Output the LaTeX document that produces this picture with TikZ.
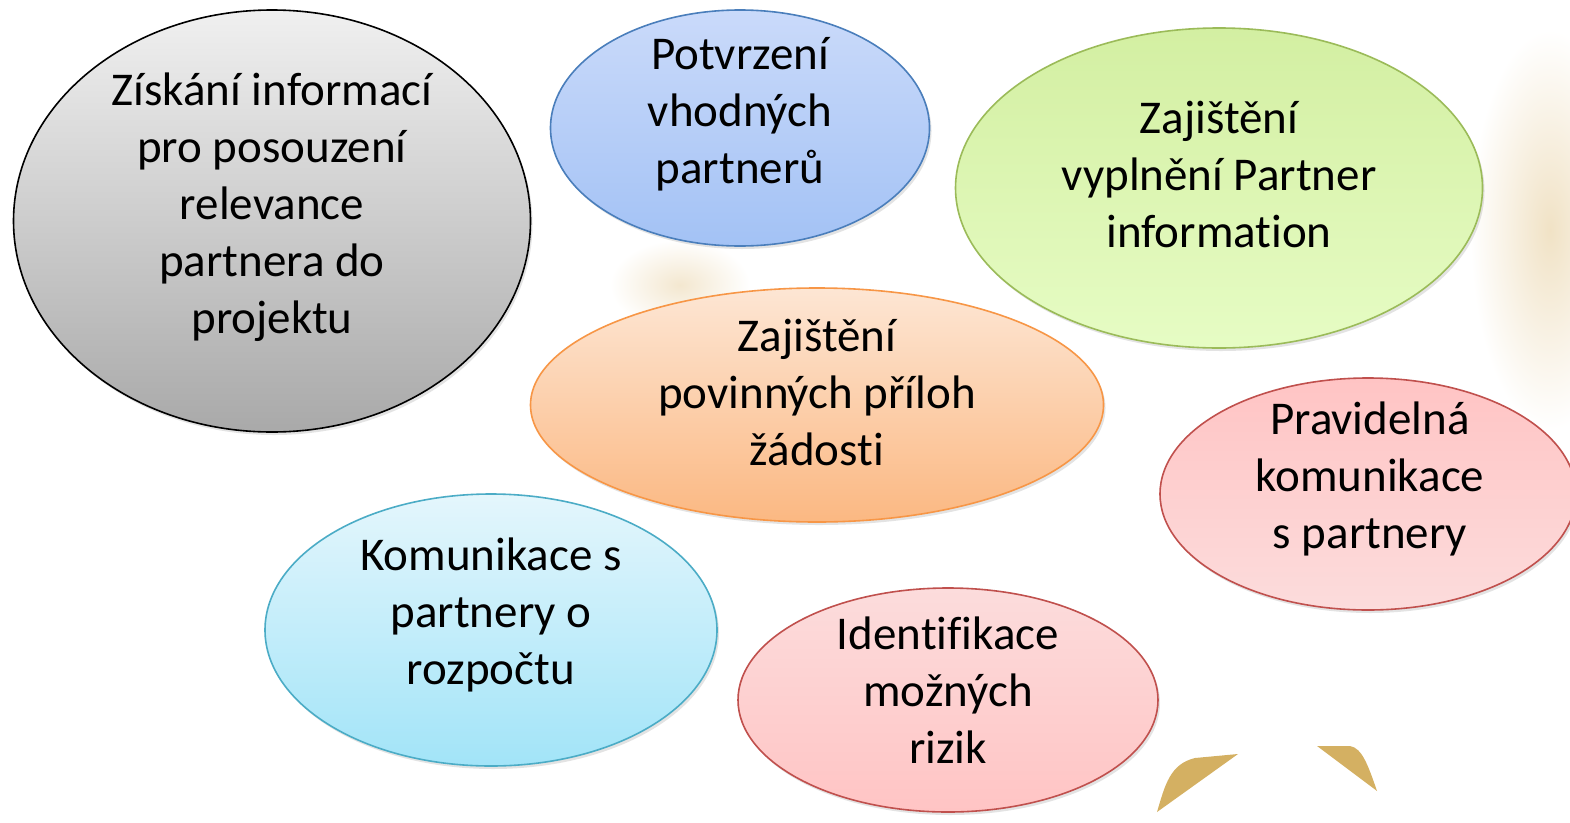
\documentclass[tikz,border=0pt]{standalone}
\usepackage{fontspec}
\setmainfont{Carlito}[Ligatures={NoCommon,NoContextual,NoRare}]
\usetikzlibrary{shapes.geometric,shadows}
\definecolor{gold}{HTML}{D4B062}
\definecolor{glow}{HTML}{EEDDBB}
\definecolor{grayline}{HTML}{000000}
\definecolor{graytop}{HTML}{F0F0F0}
\definecolor{graybot}{HTML}{A9A9A9}
\definecolor{blueline}{HTML}{4A7EBB}
\definecolor{bluetop}{HTML}{CADAFA}
\definecolor{bluebot}{HTML}{A3C2F5}
\definecolor{greenline}{HTML}{9BBB59}
\definecolor{greentop}{HTML}{D3EFA2}
\definecolor{greenbot}{HTML}{E6FCC4}
\definecolor{orangeline}{HTML}{F79646}
\definecolor{orangetop}{HTML}{FDE6D4}
\definecolor{orangebot}{HTML}{FBB882}
\definecolor{redline}{HTML}{C0504D}
\definecolor{redtop}{HTML}{FFC4C4}
\definecolor{redbot}{HTML}{FCDCDC}
\definecolor{cyanline}{HTML}{4BACC6}
\definecolor{cyantop}{HTML}{E4F6FC}
\definecolor{cyanbot}{HTML}{A2E4F8}
\tikzset{
  bubble/.style={ellipse, inner sep=0pt, line width=1.6pt,
    drop shadow={opacity=0.22, shadow xshift=2pt, shadow yshift=-3pt}},
  lbl/.style={align=center, inner sep=0pt, font=\fontsize{47pt}{57pt}\selectfont},
}
\begin{document}
\begin{tikzpicture}[x=1pt,y=-1pt]
\useasboundingbox (0,0) rectangle (1570,822);
\fill[white] (0,0) rectangle (1570,822);
% background glows
\shade[inner color=glow!85, outer color=white] (1550,230) ellipse [x radius=80, y radius=200];
\shade[inner color=glow!70, outer color=white] (680,285) ellipse [x radius=70, y radius=45];
% gold shapes
\fill[gold] (1157,812) .. controls (1165,785) and (1170,764) .. (1195,758) -- (1238,754) -- cycle;
\fill[gold] (1317,746) -- (1350,746) .. controls (1362,748) and (1368,765) .. (1377,791) -- cycle;
% ellipses
\node[bubble, draw=grayline, top color=graytop, bottom color=graybot,
  minimum width=517, minimum height=422] (e1) at (272,221) {};
\node[bubble, draw=blueline, top color=bluetop, bottom color=bluebot,
  minimum width=379, minimum height=236] (e2) at (740,128) {};
\node[bubble, draw=greenline, top color=greentop, bottom color=greenbot,
  minimum width=527, minimum height=320] (e3) at (1219,188) {};
\node[bubble, draw=orangeline, top color=orangetop, bottom color=orangebot,
  minimum width=573, minimum height=234] (e4) at (817,405) {};
\node[bubble, draw=redline, top color=redtop, bottom color=redbot,
  minimum width=416, minimum height=232] (e5) at (1368,494) {};
\node[bubble, draw=cyanline, top color=cyantop, bottom color=cyanbot,
  minimum width=452, minimum height=272] (e6) at (491,630) {};
\node[bubble, draw=redline, top color=redbot, bottom color=redtop,
  minimum width=420, minimum height=224] (e7) at (948,700) {};
% labels
\node[lbl] (t1) at (272,207) {Získání informací\\pro posouzení\\relevance\\partnera do\\projektu};
\node[lbl] (t2) at (740,114) {Potvrzení\\vhodných\\partnerů};
\node[lbl] (t3) at (1219,174) {Zajištění\\vyplnění Partner\\information};
\node[lbl] (t4) at (817,392) {Zajištění\\povinných příloh\\žádosti};
\node[lbl] (t5) at (1370,479) {Pravidelná\\komunikace\\s partnery};
\node[lbl] (t6) at (491,615) {Komunikace s\\partnery o\\rozpočtu};
\node[lbl] (t7) at (948,690) {Identifikace\\možných\\rizik};
\end{tikzpicture}
\end{document}
